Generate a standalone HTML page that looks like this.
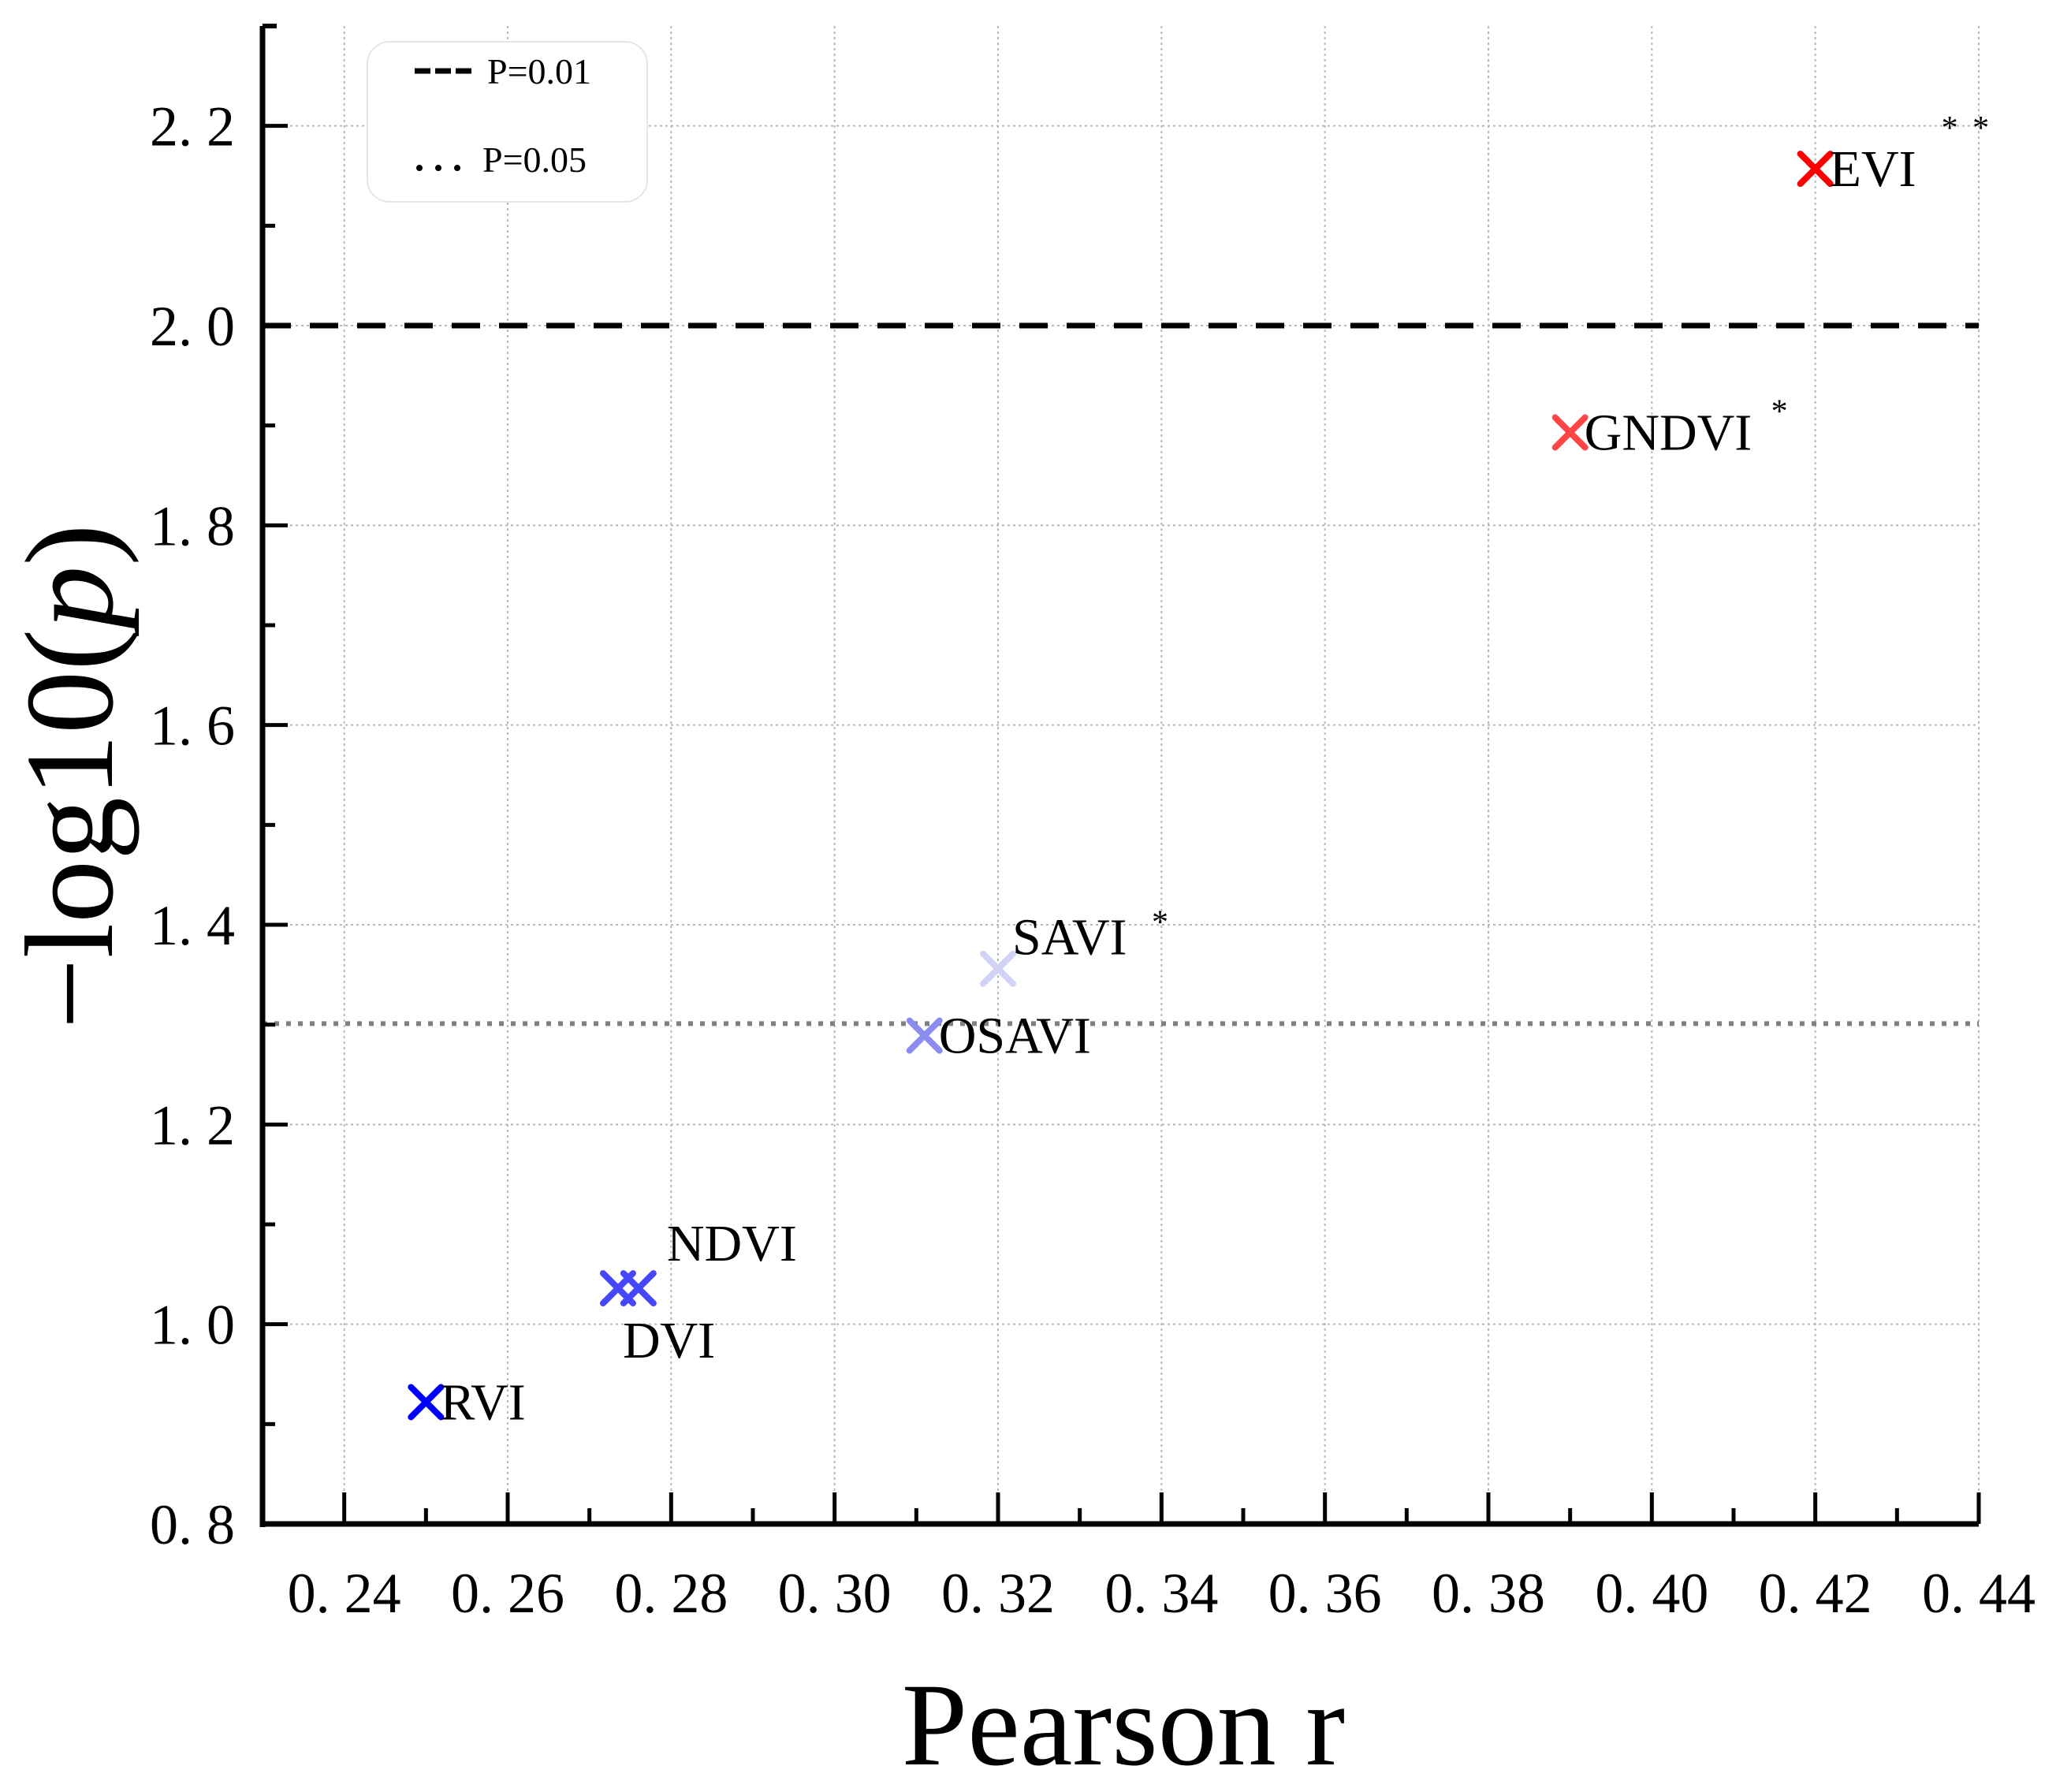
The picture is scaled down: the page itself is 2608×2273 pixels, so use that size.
<!DOCTYPE html>
<html><head><meta charset="utf-8">
<style>
html,body{margin:0;padding:0;background:#fff;}
svg{display:block;}
text{font-family:"Liberation Serif","Noto Serif CJK SC",serif;}
</style></head>
<body>
<svg id="chart" width="2608" height="2273" viewBox="0 0 2608 2273" xmlns="http://www.w3.org/2000/svg">
<g id="grid"></g>
<g id="reflines"></g>
<g id="axes"></g>
<g id="points"></g>
<text x="1425" y="2238" font-size="150" text-anchor="middle">Pearson r</text>
<text transform="translate(142,985) rotate(-90)" font-size="160" text-anchor="middle">−log10(<tspan font-style="italic">p</tspan>)</text>
<g>
<rect x="466" y="53" width="355" height="203" rx="28" fill="#fff" stroke="#e6e6e6" stroke-width="2"/>
<line x1="526" y1="90" x2="598" y2="90" stroke="#000" stroke-width="7" stroke-dasharray="20,6"/>
<text x="618" y="106" font-size="46">P=0.01</text>
<line x1="532" y1="213" x2="588" y2="213" stroke="#000" stroke-width="8" stroke-linecap="round" stroke-dasharray="0,24"/>
<text x="612" y="218" font-size="46">P=0.05</text>
</g>
</svg>
<script>
const names = ["EVI","GNDVI","SAVI","OSAVI","NDVI","DVI","RVI"];
const rValues = [0.420,0.390,0.320,0.311,0.276,0.2735,0.250];
const logP = [2.157,1.893,1.356,1.289,1.036,1.036,0.922];
const stars = ["**","*","*","","","",""];
const colors = ["#ff0000","#ff4545","#d2d2f6","#8c8cf0","#4646fa","#4646fa","#0000ff"];
const xTicks = [0.24,0.26,0.28,0.30,0.32,0.34,0.36,0.38,0.40,0.42,0.44];
const xTickLabels = ["0. 24","0. 26","0. 28","0. 30","0. 32","0. 34","0. 36","0. 38","0. 40","0. 42","0. 44"];
const yTicks = [0.8,1.0,1.2,1.4,1.6,1.8,2.0,2.2];
const yTickLabels = ["0. 8","1. 0","1. 2","1. 4","1. 6","1. 8","2. 0","2. 2"];
const refLevels = [2.0,1.30103];

const L=333,R=2510,T=33,B=1933;
const xMin=0.23,xMax=0.44,yMin=0.8,yMax=2.3;
const X=v=>L+(v-xMin)/(xMax-xMin)*(R-L);
const Y=v=>B-(v-yMin)/(yMax-yMin)*(B-T);
const NS="http://www.w3.org/2000/svg";
function mk(tag,attrs,parent,txt){const e=document.createElementNS(NS,tag);for(const k in attrs)e.setAttribute(k,attrs[k]);if(txt!==undefined)e.textContent=txt;parent.appendChild(e);return e;}
const grid=document.getElementById('grid'),axes=document.getElementById('axes'),pts=document.getElementById('points'),refs=document.getElementById('reflines');

xTicks.forEach((v,i)=>{
  const g=mk('line',{x1:X(v),x2:X(v),y1:T,y2:B,stroke:'#b8b8b8','stroke-width':2,'stroke-dasharray':'3,4'},grid);
  
  
  const t=mk('line',{x1:X(v),x2:X(v),y1:B,y2:B-40,stroke:'#000','stroke-width':5},axes);
  
  
  const lb=mk('text',{x:X(v),y:2045,'font-size':72,'text-anchor':'middle'},axes,xTickLabels[i]);
  
  
  if(i<xTicks.length-1){
    const m=mk('line',{x1:X(v+0.01),x2:X(v+0.01),y1:B,y2:B-20,stroke:'#000','stroke-width':5},axes);
    
    
  }
});
yTicks.forEach((v,i)=>{
  const g=mk('line',{x1:L,x2:R,y1:Y(v),y2:Y(v),stroke:'#b8b8b8','stroke-width':2,'stroke-dasharray':'3,4'},grid);
  
  
  const t=mk('line',{x1:L,x2:L+32,y1:Y(v),y2:Y(v),stroke:'#000','stroke-width':5},axes);
  
  
  const lb=mk('text',{x:298,y:Y(v)+25,'font-size':72,'text-anchor':'end'},axes,yTickLabels[i]);
  
  
  const m=mk('line',{x1:L,x2:L+16,y1:Y(v+0.1),y2:Y(v+0.1),stroke:'#000','stroke-width':5},axes);
  
  
});
const sp1=mk('line',{x1:L,x2:L,y1:T,y2:B+4,stroke:'#000','stroke-width':7},axes);


const sp2=mk('line',{x1:L-3,x2:R,y1:B,y2:B,stroke:'#000','stroke-width':7},axes);


const tt=mk('line',{x1:L,x2:L+18,y1:T,y2:T,stroke:'#000','stroke-width':6},axes);



const r1=mk('line',{x1:L,x2:R,y1:Y(refLevels[0]),y2:Y(refLevels[0]),stroke:'#000','stroke-width':7,'stroke-dasharray':'36,24'},refs);


const r2=mk('line',{x1:L,x2:R,y1:Y(refLevels[1]),y2:Y(refLevels[1]),stroke:'#808080','stroke-width':6,'stroke-dasharray':'6,9'},refs);



const labOff={EVI:[18,22],GNDVI:[18,22],SAVI:[18,-18],OSAVI:[18,22],NDVI:[36,-35],DVI:[6,88],RVI:[18,22]};
const starOff={EVI:[160,-38],GNDVI:[255,-13],SAVI:[195,-45]};
names.forEach((n,i)=>{
  const cx=X(rValues[i]),cy=Y(logP[i]),s=19;
  const g=mk('path',{d:`M${cx-s},${cy-s}L${cx+s},${cy+s}M${cx-s},${cy+s}L${cx+s},${cy-s}`,stroke:colors[i],'stroke-width':8,'stroke-linecap':'round',fill:'none'},pts);
  
  
  const o=labOff[n];
  const t=mk('text',{x:cx+o[0],y:cy+o[1],'font-size':66},pts,n);
  
  
  if(stars[i]){
    const so=starOff[n];
    const st=mk('text',{x:cx+so[0],y:cy+so[1],'font-size':42,'letter-spacing':4},pts,stars[i].split('').join(' '));
    
    
  }
});
</script>
</body></html>
